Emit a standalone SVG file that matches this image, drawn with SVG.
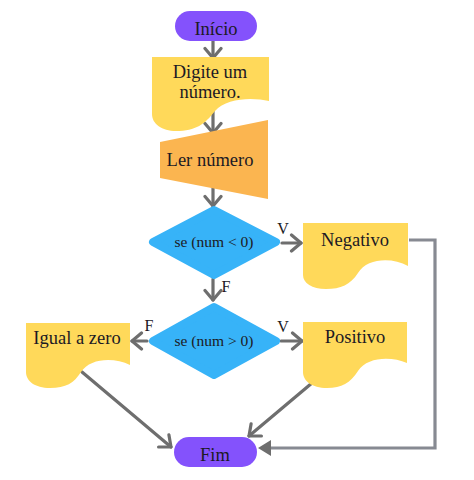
<svg xmlns="http://www.w3.org/2000/svg" width="474" height="480" viewBox="0 0 474 480">
<defs>
<style>
.t{font-family:"Liberation Serif","DejaVu Serif",serif;fill:#1c1a24;text-anchor:middle}
.doc{fill:#ffd95a}
.term{fill:#8452fc}
.dia{fill:#37b3f8;stroke:#37b3f8;stroke-width:8;stroke-linejoin:round}
.c{stroke:#6e6e6e;stroke-width:3.2;fill:none;stroke-linecap:round}
.loop{stroke:#878a92;stroke-width:3.2;fill:none}
</style>
<marker id="ch" markerUnits="userSpaceOnUse" viewBox="-12 -10 14 20" markerWidth="14" markerHeight="20" refX="0" refY="0" orient="auto">
<path d="M-9.5,-8 L0,0 L-9.5,8" fill="none" stroke="#6e6e6e" stroke-width="3.2" stroke-linecap="round" stroke-linejoin="round"/>
</marker>
</defs>
<rect width="474" height="480" fill="#ffffff"/>
<g id="connectors">
<line class="c" x1="213" y1="41" x2="213" y2="58" marker-end="url(#ch)"/>
<line class="c" x1="213" y1="110" x2="213" y2="133" marker-end="url(#ch)"/>
<line class="c" x1="213" y1="186" x2="213" y2="206" marker-end="url(#ch)"/>
<line class="c" x1="282" y1="243" x2="301" y2="243" marker-end="url(#ch)"/>
<line class="c" x1="213" y1="279" x2="213" y2="300" marker-end="url(#ch)"/>
<line class="c" x1="147" y1="341" x2="132" y2="341" marker-end="url(#ch)"/>
<line class="c" x1="281" y1="341" x2="302" y2="341" marker-end="url(#ch)"/>
<line class="c" x1="82" y1="372" x2="171" y2="447" marker-end="url(#ch)"/>
<line class="c" x1="312" y1="383" x2="249" y2="436" marker-end="url(#ch)"/>
<polyline class="loop" points="409,240 435,240 435,448 270,448"/>
<path d="M258,448 L271,440 L271,456 Z" fill="#6e6e6e"/>
<text class="t" x="283" y="234" font-size="16">V</text>
<text class="t" x="226" y="292" font-size="16">F</text>
<text class="t" x="149" y="331" font-size="16">F</text>
<text class="t" x="283" y="332" font-size="16">V</text>
</g>
<g id="inicio">
<rect class="term" x="175" y="11" width="82" height="30" rx="15"/>
<text class="t" x="216" y="35" font-size="18.5">Início</text>
</g>
<g id="digite">
<path class="doc" d="M152,57 H269 V101 C252,97 226,98 215,111 C205,124 196,131 176,131 C162,131 152,124 152,114 Z"/>
<text class="t" x="210" y="78" font-size="18.5">Digite um</text>
<text class="t" x="210" y="98" font-size="18.5">número.</text>
</g>
<g id="ler">
<polygon points="160,142 268,120 268,199 160,178" fill="#fbb550"/>
<text class="t" x="210" y="166" font-size="18.5">Ler número</text>
</g>
<g id="cond1">
<polygon class="dia" points="153,242 214,210 276,242 214,275"/>
<text class="t" x="214" y="247" font-size="15.5">se (num &lt; 0)</text>
</g>
<g id="negativo">
<path class="doc" d="M303,223 H408 V266 C392,257 367,258 358,273 C350,285 341,289 326,289 C312,289 303,283 303,275 Z"/>
<text class="t" x="355" y="246" font-size="18.5">Negativo</text>
</g>
<g id="cond2">
<polygon class="dia" points="153,341 214,307 276,341 214,375"/>
<text class="t" x="214" y="346" font-size="15.5">se (num &gt; 0)</text>
</g>
<g id="igual">
<path class="doc" d="M26,323 H130 V365 C114,357 90,358 81,372 C74,383 66,388 50,388 C35,388 26,381 26,372 Z"/>
<text class="t" x="77" y="344" font-size="18.5">Igual a zero</text>
</g>
<g id="positivo">
<path class="doc" d="M303,322 H407 V363 C391,356 367,357 358,371 C350,383 342,388 327,388 C312,388 303,381 303,372 Z"/>
<text class="t" x="355" y="343" font-size="18.5">Positivo</text>
</g>
<g id="fim">
<rect class="term" x="174" y="437" width="83" height="30" rx="15"/>
<text class="t" x="215" y="461" font-size="18.5">Fim</text>
</g>
</svg>
